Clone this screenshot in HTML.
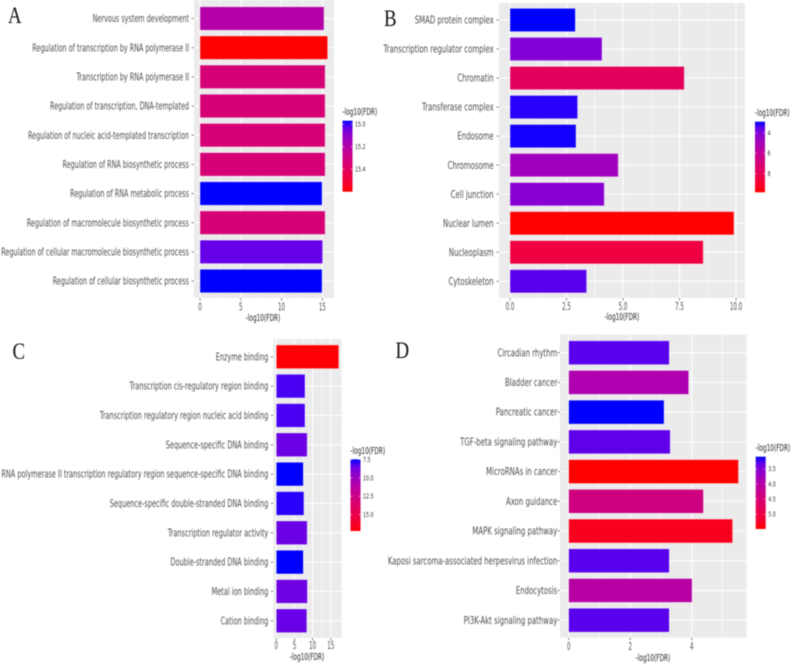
<!DOCTYPE html>
<html lang="en">
<head>
<meta charset="utf-8">
<title>Enrichment bar charts</title>
<style>
html,body{margin:0;padding:0;background:#fff;width:794px;height:665px;overflow:hidden}
svg{display:block;filter:blur(.4px)}
text{font-family:"DejaVu Sans","Liberation Sans",sans-serif}
</style>
</head>
<body>
<svg id="figure" xmlns="http://www.w3.org/2000/svg" width="794" height="665" viewBox="0 0 794 665">
<defs id="defs"></defs>
<text transform="translate(8,23) scale(.82,1)" style="font-family:'Liberation Serif',serif;font-size:23px;fill:#111">A</text>
<text transform="translate(384,26) scale(.82,1)" style="font-family:'Liberation Serif',serif;font-size:23px;fill:#111">B</text>
<text transform="translate(12.5,359) scale(.82,1)" style="font-family:'Liberation Serif',serif;font-size:23px;fill:#111">C</text>
<text transform="translate(395.5,358) scale(.82,1)" style="font-family:'Liberation Serif',serif;font-size:23px;fill:#111">D</text>
</svg>
<script>
// ---- Panel A data ----
const aCategories = ["Nervous system development","Regulation of transcription by RNA polymerase II","Transcription by RNA polymerase II","Regulation of transcription, DNA-templated","Regulation of nucleic acid-templated transcription","Regulation of RNA biosynthetic process","Regulation of RNA metabolic process","Regulation of macromolecule biosynthetic process","Regulation of cellular macromolecule biosynthetic process","Regulation of cellular biosynthetic process"];
const aValues = [15.2,15.65,15.34,15.34,15.34,15.34,14.97,15.34,15.03,14.97];
const aTicks = [0,5,10,15];
const aTickLabels = ["0","5","10","15"];
const aMinorTicks = [2.5,7.5,12.5];
const aColorDomain = [14.97,15.6];
const aLegendTicks = [15.0,15.2,15.4];
const aLegendLabels = ["15.0","15.2","15.4"];

// ---- Panel B data ----
const bCategories = ["SMAD protein complex","Transcription regulator complex","Chromatin","Transferase complex","Endosome","Chromosome","Cell junction","Nuclear lumen","Nucleoplasm","Cytoskeleton"];
const bValues = [2.89,4.07,7.71,2.99,2.92,4.79,4.17,9.91,8.55,3.39];
const bTicks = [0,2.5,5,7.5,10];
const bTickLabels = ["0.0","2.5","5.0","7.5","10.0"];
const bMinorTicks = [1.25,3.75,6.25,8.75];
const bColorDomain = [2.89,9.83];
const bLegendTicks = [4,6,8];
const bLegendLabels = ["4","6","8"];

// ---- Panel C data ----
const cCategories = ["Enzyme binding","Transcription cis-regulatory region binding","Transcription regulatory region nucleic acid binding","Sequence-specific DNA binding","RNA polymerase II transcription regulatory region sequence-specific DNA binding","Sequence-specific double-stranded DNA binding","Transcription regulator activity","Double-stranded DNA binding","Metal ion binding","Cation binding"];
const cValues = [17.2,7.9,7.9,8.5,7.44,7.6,8.5,7.44,8.55,8.4];
const cTicks = [0,5,10,15];
const cTickLabels = ["0","5","10","15"];
const cMinorTicks = [2.5,7.5,12.5];
const cColorDomain = [7.44,17.26];
const cLegendTicks = [7.5,10,12.5,15];
const cLegendLabels = ["7.5","10.0","12.5","15.0"];

// ---- Panel D data ----
const dCategories = ["Circadian rhythm","Bladder cancer","Pancreatic cancer","TGF-beta signaling pathway","MicroRNAs in cancer","Axon guidance","MAPK signaling pathway","Kaposi sarcoma-associated herpesvirus infection","Endocytosis","PI3K-Akt signaling pathway"];
const dValues = [3.27,3.9,3.1,3.3,5.52,4.38,5.33,3.27,4.01,3.27];
const dTicks = [0,2,4];
const dTickLabels = ["0","2","4"];
const dMinorTicks = [1,3,5];
const dColorDomain = [3.1,5.48];
const dLegendTicks = [3.5,4,4.5,5];
const dLegendLabels = ["3.5","4.0","4.5","5.0"];

const SVGNS = "http://www.w3.org/2000/svg";
const figure = document.getElementById("figure");
const defs = document.getElementById("defs");

function make(tag, attrs, parent) {
  const el = document.createElementNS(SVGNS, tag);
  for (const k in attrs) el.setAttribute(k, attrs[k]);
  (parent || figure).appendChild(el);
  return el;
}

// Lab-space blue to red ramp, as ggplot's scale_fill_gradient produces
function rampColor(t) {
  t = Math.max(0, Math.min(1, t));
  const L = 32.3 + (53.24 - 32.3) * t;
  const A = 79.19 + (80.09 - 79.19) * t;
  const B = -107.86 + (67.2 + 107.86) * t;
  const fy = (L + 16) / 116, fx = fy + A / 500, fz = fy - B / 200;
  const inv = f => f > 6 / 29 ? f * f * f : 3 * (6 / 29) * (6 / 29) * (f - 4 / 29);
  const X = 0.95047 * inv(fx), Y = inv(fy), Z = 1.08883 * inv(fz);
  const lin = [3.2406 * X - 1.5372 * Y - 0.4986 * Z, -0.9689 * X + 1.8758 * Y + 0.0415 * Z, 0.0557 * X - 0.204 * Y + 1.057 * Z];
  const rgb = lin.map(c => {
    c = Math.max(0, Math.min(1, c));
    const s = c <= 0.0031308 ? 12.92 * c : 1.055 * Math.pow(c, 1 / 2.4) - 0.055;
    return Math.round(s * 255);
  });
  return "rgb(" + rgb.join(",") + ")";
}

function drawPanel(p) {
  const xScale = v => p.x0 + v * p.pxPerUnit;
  const yScale = i => p.yFirst + i * p.yStep;
  const colorT = v => (v - p.colorDomain[0]) / (p.colorDomain[1] - p.colorDomain[0]);
  const legendY = v => p.legendTop + colorT(v) * p.legendHeight;

  const g = make("g", {});
  
  

  const bg = make("rect", {x: p.left, y: p.top, width: p.right - p.left, height: p.bottom - p.top, fill: "#ebebeb"}, g);
  
  

  p.minorTicks.forEach(v => {
    if (xScale(v) > p.right) return;
    const line = make("line", {x1: xScale(v), x2: xScale(v), y1: p.top, y2: p.bottom, stroke: "#fff", "stroke-width": 0.5}, g);
    
    
  });
  p.ticks.forEach((v, i) => {
    const line = make("line", {x1: xScale(v), x2: xScale(v), y1: p.top, y2: p.bottom, stroke: "#fff", "stroke-width": 1}, g);
    
    

    const tick = make("line", {x1: xScale(v), x2: xScale(v), y1: p.bottom, y2: p.bottom + 2.5, stroke: "#555", "stroke-width": 0.7}, g);
    
    

    const label = make("text", {transform: "translate(" + xScale(v) + "," + p.xTickBaseline + ") scale(" + p.tickSqueeze + ",1)", "text-anchor": "middle", "font-size": 11, fill: "#4d4d4d"}, g);
    label.textContent = p.tickLabels[i];
    
    
  });

  p.categories.forEach((name, i) => {
    const y = yScale(i);
    const grid = make("line", {x1: p.left, x2: p.right, y1: y, y2: y, stroke: "#fff", "stroke-width": 1}, g);
    
    

    const bar = make("rect", {x: xScale(0), y: y - p.barHeight / 2, width: xScale(p.values[i]) - xScale(0), height: p.barHeight, fill: rampColor(colorT(p.values[i])), stroke: "rgba(255,255,255,.5)", "stroke-width": 0.6}, g);
    
    

    const tick = make("line", {x1: p.left - 2.5, x2: p.left, y1: y, y2: y, stroke: "#555", "stroke-width": 0.7}, g);
    
    

    const label = make("text", {transform: "translate(" + p.labelEnd + "," + (y + 3.6) + ") scale(" + p.squeeze + ",1)", "text-anchor": "end", "font-size": 11, fill: "#4d4d4d"}, g);
    label.textContent = name;
    
    
  });

  const axisTitle = make("text", {transform: "translate(" + p.axisTitleX + "," + p.axisTitleY + ") scale(0.58,1)", "text-anchor": "middle", "font-size": 10, fill: "#222"}, g);
  axisTitle.textContent = "-log10(FDR)";
  
  

  // legend colourbar
  const grad = make("linearGradient", {id: "ramp-" + p.id, x1: 0, y1: 0, x2: 0, y2: 1}, defs);
  [0, 0.1, 0.2, 0.3, 0.4, 0.5, 0.6, 0.7, 0.8, 0.9, 1].forEach(t => {
    make("stop", {offset: t, "stop-color": rampColor(t)}, grad);
  });

  const legendTitle = make("text", {transform: "translate(" + p.legendX + "," + p.legendTitleY + ") scale(0.58,1)", "font-size": 10, fill: "#222"}, g);
  legendTitle.textContent = "-log10(FDR)";
  
  

  const bar = make("rect", {x: p.legendX, y: p.legendTop, width: 10, height: p.legendHeight, fill: "url(#ramp-" + p.id + ")"}, g);
  
  

  p.legendTicks.forEach((v, i) => {
    const y = legendY(v);
    const t1 = make("line", {x1: p.legendX, x2: p.legendX + 2, y1: y, y2: y, stroke: "#fff", "stroke-width": 0.4}, g);
    
    

    const t2 = make("line", {x1: p.legendX + 8, x2: p.legendX + 10, y1: y, y2: y, stroke: "#fff", "stroke-width": 0.4}, g);
    
    

    const label = make("text", {transform: "translate(" + (p.legendX + 12.5) + "," + (y + 2.3) + ") scale(0.68,1)", "font-size": 7, fill: "#333"}, g);
    label.textContent = p.legendLabels[i];
    
    
  });
}

drawPanel({id: "a", categories: aCategories, values: aValues, ticks: aTicks, tickLabels: aTickLabels, minorTicks: aMinorTicks, colorDomain: aColorDomain, legendTicks: aLegendTicks, legendLabels: aLegendLabels,
  left: 194, right: 334, top: 0, bottom: 298, x0: 200, pxPerUnit: 8.155, yFirst: 18.5, yStep: 29.17, barHeight: 23.4, labelEnd: 189, squeeze: 0.585, tickSqueeze: 0.5, xTickBaseline: 310.5, axisTitleX: 263, axisTitleY: 321, legendX: 342.5, legendTop: 120.7, legendHeight: 71, legendTitleY: 115});

drawPanel({id: "b", categories: bCategories, values: bValues, ticks: bTicks, tickLabels: bTickLabels, minorTicks: bMinorTicks, colorDomain: bColorDomain, legendTicks: bLegendTicks, legendLabels: bLegendLabels,
  left: 499, right: 745, top: 3, bottom: 298, x0: 510, pxPerUnit: 22.6, yFirst: 20, yStep: 29.03, barHeight: 23.2, labelEnd: 493.7, squeeze: 0.632, tickSqueeze: 0.5, xTickBaseline: 310, axisTitleX: 622, axisTitleY: 320, legendX: 755, legendTop: 121.7, legendHeight: 70.6, legendTitleY: 116});

drawPanel({id: "c", categories: cCategories, values: cValues, ticks: cTicks, tickLabels: cTickLabels, minorTicks: cMinorTicks, colorDomain: cColorDomain, legendTicks: cLegendTicks, legendLabels: cLegendLabels,
  left: 273.3, right: 341.7, top: 339, bottom: 638, x0: 276.3, pxPerUnit: 3.63, yFirst: 356.8, yStep: 29.33, barHeight: 23.6, labelEnd: 268.3, squeeze: 0.597, tickSqueeze: 0.5, xTickBaseline: 649, axisTitleX: 307, axisTitleY: 660, legendX: 350.5, legendTop: 459.3, legendHeight: 71.7, legendTitleY: 454});

drawPanel({id: "d", categories: dCategories, values: dValues, ticks: dTicks, tickLabels: dTickLabels, minorTicks: dMinorTicks, colorDomain: dColorDomain, legendTicks: dLegendTicks, legendLabels: dLegendLabels,
  left: 560, right: 746.7, top: 334.7, bottom: 637.7, x0: 568.7, pxPerUnit: 30.75, yFirst: 352.7, yStep: 29.72, barHeight: 23.8, labelEnd: 557.3, squeeze: 0.631, tickSqueeze: 0.5, xTickBaseline: 650, axisTitleX: 653, axisTitleY: 661, legendX: 755.7, legendTop: 456.7, legendHeight: 72.3, legendTitleY: 451});
</script>
</body>
</html>
